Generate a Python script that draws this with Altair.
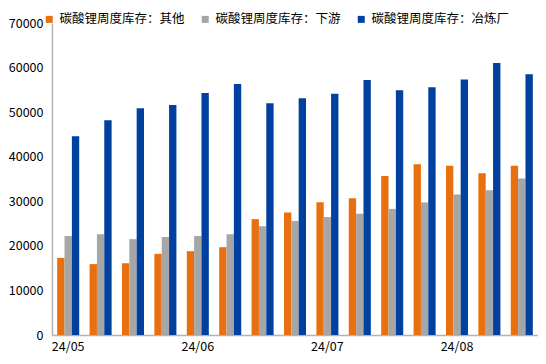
import altair as alt
import pandas as pd

weeks = ["2024-05-09", "2024-05-16", "2024-05-23", "2024-05-30",
         "2024-06-06", "2024-06-13", "2024-06-20", "2024-06-27",
         "2024-07-04", "2024-07-11", "2024-07-18", "2024-07-25",
         "2024-08-01", "2024-08-08", "2024-08-15"]
tick_labels = ["24/05", "", "", "", "24/06", "", "", "",
               "24/07", "", "", "", "24/08", "", ""]
series = ["碳酸锂周度库存：其他", "碳酸锂周度库存：下游", "碳酸锂周度库存：冶炼厂"]
colors = ["#E8700E", "#A6A6A6", "#0041A0"]

other = [17300, 15900, 16100, 18200, 18800, 19700, 26000, 27500,
         29800, 30700, 35700, 38300, 38000, 36300, 38000]
downstream = [22200, 22600, 21500, 22000, 22200, 22600, 24400, 25600,
              26500, 27200, 28300, 29700, 31500, 32500, 35100]
smelter = [44600, 48200, 50900, 51600, 54300, 56300, 52000, 53100,
           54100, 57200, 54900, 55600, 57300, 61000, 58500]

y_ticks = [0, 10000, 20000, 30000, 40000, 50000, 60000, 70000]

rows = []
for i, w in enumerate(weeks):
    for s, vals in zip(series, [other, downstream, smelter]):
        rows.append({"week": w, "series": s, "value": vals[i]})
df = pd.DataFrame(rows)

label_expr = ""
for w, t in zip(weeks, tick_labels):
    if t:
        label_expr += f"datum.value == '{w}' ? '{t}' : "
label_expr += "''"

FONT = "Noto Sans CJK SC"

chart = alt.Chart(df).mark_bar().encode(
    x=alt.X("week:N", sort=weeks,
            scale=alt.Scale(paddingInner=0.32, paddingOuter=0.16),
            axis=alt.Axis(title=None, labelExpr=label_expr, labelAngle=0,
                          ticks=False, domainColor="#b3b3b3", domainWidth=1.5,
                          labelPadding=5, labelFontSize=12.5, labelColor="#000000",
                          labelFont=FONT, labelBaseline="top")),
    xOffset=alt.XOffset("series:N", sort=series, scale=alt.Scale(paddingInner=0)),
    y=alt.Y("value:Q", scale=alt.Scale(domain=[0, 70000]),
            axis=alt.Axis(title=None, values=y_ticks, grid=False, ticks=False,
                          format="d",
                          domainColor="#b3b3b3", domainWidth=1.5, labelPadding=9,
                          labelFontSize=12.5, labelColor="#000000", labelFont=FONT)),
    color=alt.Color("series:N", sort=series,
                    scale=alt.Scale(domain=series, range=colors),
                    legend=alt.Legend(title=None, orient="none", direction="horizontal",
                                      legendX=-9, legendY=-10, symbolType="square",
                                      symbolSize=49, symbolStrokeWidth=0,
                                      labelFontSize=12.5, labelFont=FONT,
                                      labelColor="#000000", columnPadding=14,
                                      labelOffset=4)),
).properties(
    width=486, height=312,
    autosize=alt.AutoSizeParams(type="none"),
    padding={"left": 44, "top": 15, "right": 0, "bottom": 21},
).configure_view(stroke=None)

chart.save("out.html", embed_options={"renderer": "svg", "actions": False})
